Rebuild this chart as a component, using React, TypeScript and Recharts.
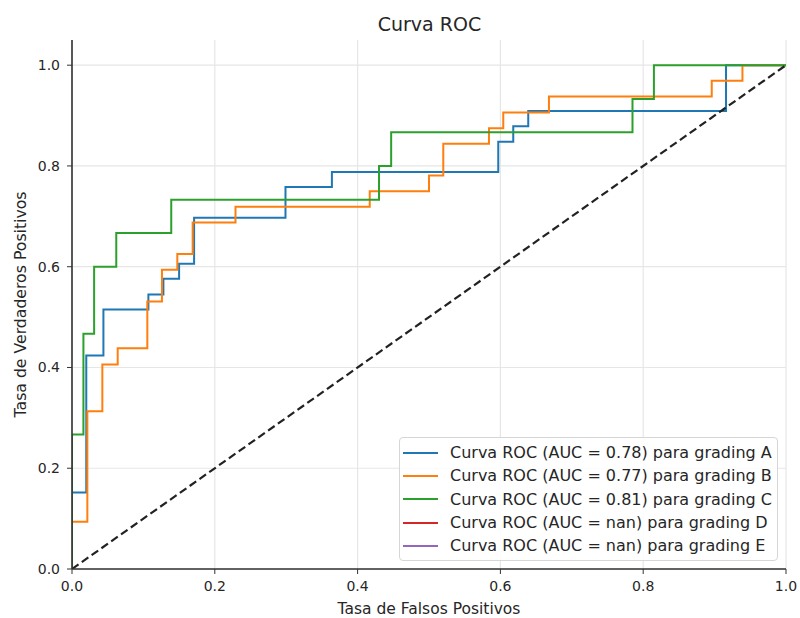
import React from "react";
import {
  CartesianGrid,
  Legend,
  Line,
  LineChart,
  ReferenceLine,
  XAxis,
  YAxis,
} from "recharts";

// ROC corner points (fpr on x, tpr on y)
const fprA = [0, 0, 0.02, 0.02, 0.044, 0.044, 0.107, 0.107, 0.128, 0.128, 0.15, 0.15, 0.171, 0.171, 0.299, 0.299, 0.364, 0.364, 0.597, 0.597, 0.618, 0.618, 0.639, 0.639, 0.916, 0.916, 1];
const tprA = [0, 0.152, 0.152, 0.424, 0.424, 0.515, 0.515, 0.545, 0.545, 0.576, 0.576, 0.606, 0.606, 0.697, 0.697, 0.758, 0.758, 0.788, 0.788, 0.848, 0.848, 0.879, 0.879, 0.909, 0.909, 1, 1];

const fprB = [0, 0, 0.0215, 0.0215, 0.0425, 0.0425, 0.064, 0.064, 0.1055, 0.1055, 0.126, 0.126, 0.1475, 0.1475, 0.169, 0.169, 0.229, 0.229, 0.417, 0.417, 0.5, 0.5, 0.52, 0.52, 0.584, 0.584, 0.604, 0.604, 0.668, 0.668, 0.896, 0.896, 0.939, 0.939, 1];
const tprB = [0, 0.094, 0.094, 0.313, 0.313, 0.406, 0.406, 0.438, 0.438, 0.531, 0.531, 0.594, 0.594, 0.625, 0.625, 0.688, 0.688, 0.719, 0.719, 0.75, 0.75, 0.781, 0.781, 0.844, 0.844, 0.875, 0.875, 0.906, 0.906, 0.938, 0.938, 0.969, 0.969, 1, 1];

const fprC = [0, 0, 0.016, 0.016, 0.031, 0.031, 0.062, 0.062, 0.139, 0.139, 0.43, 0.43, 0.447, 0.447, 0.785, 0.785, 0.815, 0.815, 1];
const tprC = [0, 0.267, 0.267, 0.467, 0.467, 0.6, 0.6, 0.667, 0.667, 0.733, 0.733, 0.8, 0.8, 0.867, 0.867, 0.933, 0.933, 1, 1];

// chance line
const diagX = [0, 1];
const diagY = [0, 1];

const grades = ["A", "B", "C", "D", "E"];
const aucs = ["0.78", "0.77", "0.81", "nan", "nan"];
const colors = ["#1f77b4", "#ff7f0e", "#2ca02c", "#d62728", "#9467bd"];
const ticks = [0, 0.2, 0.4, 0.6, 0.8, 1];
const yMax = 1.05;

const FONT = "DejaVu Sans, sans-serif";

const toPoints = (xs: number[], ys: number[]) =>
  xs.map((x, i) => ({ x, y: ys[i] }));

const curves = [
  toPoints(fprA, tprA),
  toPoints(fprB, tprB),
  toPoints(fprC, tprC),
];

function RocLegend() {
  return (
    <div
      style={{
        boxSizing: "border-box",
        width: "100%",
        height: "100%",
        background: "rgba(255,255,255,0.85)",
        border: "1px solid #d6d6d6",
        borderRadius: 4,
        paddingTop: 3,
        fontFamily: FONT,
        fontSize: 16,
        color: "#262626",
      }}
    >
      {grades.map((g, i) => (
        <div
          key={g}
          style={{ display: "flex", alignItems: "center", height: 23.3 }}
        >
          <span
            style={{
              display: "inline-block",
              marginLeft: 3,
              width: 35,
              height: 2,
              background: colors[i],
            }}
          />
          <span style={{ marginLeft: 12, whiteSpace: "nowrap" }}>
            {`Curva ROC (AUC = ${aucs[i]}) para grading ${g}`}
          </span>
        </div>
      ))}
    </div>
  );
}

// grid only at the tick values (no line at the 1.05 top edge)
const gridRows = (props: any) => {
  const scale = props?.yAxis?.scale;
  if (typeof scale === "function") return ticks.map((t) => scale(t));
  const { offset } = props;
  return ticks.map((t) => offset.top + offset.height * (1 - t / yMax));
};

export default function App() {
  return (
    <div style={{ position: "absolute", left: 0, top: 0, width: 800, height: 618 }}>
      <div
        style={{
          position: "absolute",
          left: 0,
          width: 859,
          top: 13,
          textAlign: "center",
          fontFamily: FONT,
          fontSize: 19,
          color: "#262626",
          zIndex: 1,
        }}
      >
        Curva ROC
      </div>
      <LineChart
        width={800}
        height={618}
        margin={{ top: 40, right: 14, left: 0, bottom: 0 }}
        style={{ fontFamily: FONT }}
      >
        <CartesianGrid
          stroke="#e6e6e6"
          strokeWidth={1.2}
          horizontalCoordinatesGenerator={gridRows}
        />
        <XAxis
          type="number"
          dataKey="x"
          domain={[0, 1]}
          ticks={ticks}
          tickFormatter={(v: number) => v.toFixed(1)}
          height={49}
          tickSize={5}
          tickMargin={7}
          tick={{ fontSize: 14, fill: "#262626" }}
          stroke="#333"
          allowDataOverflow
          label={{
            value: "Tasa de Falsos Positivos",
            position: "insideBottom",
            offset: 4,
            style: { fontSize: 15.5, fill: "#262626" },
          }}
        />
        <YAxis
          type="number"
          dataKey="y"
          domain={[0, yMax]}
          ticks={ticks}
          tickFormatter={(v: number) => v.toFixed(1)}
          width={72}
          tickSize={5}
          tickMargin={7}
          tick={{ fontSize: 14, fill: "#262626" }}
          stroke="#333"
          allowDataOverflow
          label={{
            value: "Tasa de Verdaderos Positivos",
            angle: -90,
            position: "insideLeft",
            offset: 20,
            style: { fontSize: 15.7, fill: "#262626", textAnchor: "middle" },
          }}
        />
        {curves.map((pts, i) => (
          <Line
            key={grades[i]}
            data={pts}
            dataKey="y"
            type="linear"
            stroke={colors[i]}
            strokeWidth={2}
            dot={false}
            activeDot={false}
            isAnimationActive={false}
          />
        ))}
        <Line
          data={toPoints(diagX, diagY)}
          dataKey="y"
          type="linear"
          stroke="#222"
          strokeWidth={2.2}
          strokeDasharray="8 4"
          dot={false}
          activeDot={false}
          legendType="none"
          isAnimationActive={false}
        />
        {/* spines drawn over the curves, as in the original */}
        <ReferenceLine x={0} stroke="#333" strokeWidth={1.2} />
        <ReferenceLine y={0} stroke="#333" strokeWidth={1.2} />
        <Legend
          layout="vertical"
          align="center"
          verticalAlign="middle"
          content={() => <RocLegend />}
          wrapperStyle={{ left: 399, top: 437, width: 379, height: 124 }}
        />
      </LineChart>
    </div>
  );
}
